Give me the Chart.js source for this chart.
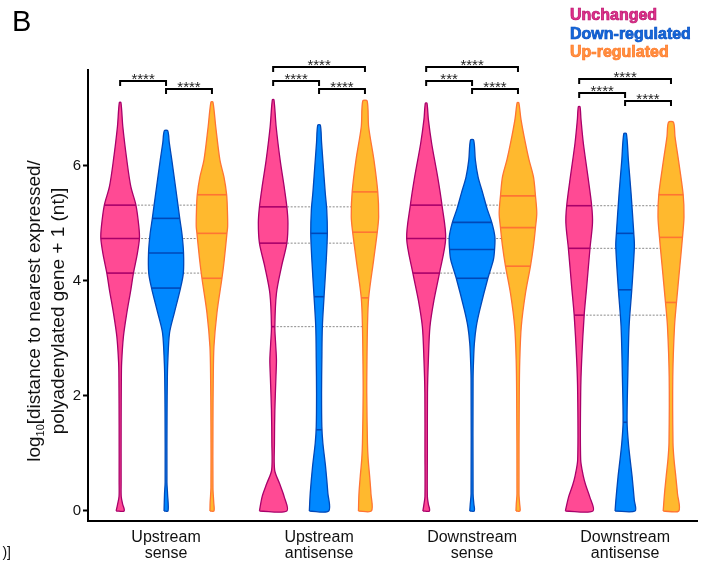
<!DOCTYPE html>
<html>
<head>
<meta charset="utf-8">
<script src="https://cdn.jsdelivr.net/npm/chart.js@4.4.1/dist/chart.umd.min.js"></script>
<style>
  html, body { margin: 0; padding: 0; background: #fff; }
  #wrap { width: 704px; height: 565px; position: relative; }
</style>
</head>
<body>
<div id="wrap"><canvas id="chart" width="704" height="565"></canvas></div>
<script>
// ---- data -------------------------------------------------------------
const groupLabels = [['Upstream', 'sense'], ['Upstream', 'antisense'], ['Downstream', 'sense'], ['Downstream', 'antisense']];
const seriesNames = ['Unchanged', 'Down-regulated', 'Up-regulated'];
const yTickValues = [0, 2, 4, 6];

// Kernel density outlines per group: [log10 distance, density] from bottom to top
const unchangedDensity = [
  [[0, 4], [0.12, 2.5], [0.25, 1.1], [0.5, 1.0], [1.5, 1.0], [2.27, 1.2], [2.57, 1.5], [3.03, 3.3], [3.44, 6.7], [3.84, 10.7], [4.13, 13.3], [4.45, 17], [4.73, 19.3], [4.94, 18.7], [5.31, 15.8], [5.63, 10.7], [6.09, 6.7], [6.67, 2.7], [7.09, 0.8]],
  [[0, 13.7], [0.25, 11], [0.48, 6.3], [0.71, 1.5], [1.18, 1.3], [1.75, 1.7], [2.33, 2.8], [2.62, 3.3], [2.9, 2.5], [3.2, 1.7], [3.78, 3.3], [4.24, 8.3], [4.65, 13.7], [5.0, 14.8], [5.28, 13.7], [5.63, 11], [6.09, 7], [6.67, 3], [7.14, 0.8]],
  [[0, 3.3], [0.12, 2.2], [0.25, 1.2], [1.0, 1.2], [2.05, 1.3], [2.62, 2.2], [3.2, 3.8], [3.66, 7.8], [4.13, 13.3], [4.73, 19.5], [5.31, 15.8], [5.8, 11.5], [6.38, 5.5], [6.8, 2.2], [7.08, 0.8]],
  [[0, 13.8], [0.25, 10.5], [0.45, 6.5], [0.6, 4.2], [0.89, 1.5], [2.04, 1.5], [2.62, 2.5], [3.4, 5], [3.89, 7.5], [4.56, 10.8], [5.0, 13.3], [5.3, 12.5], [5.8, 8.8], [6.38, 4.2], [6.8, 1.8], [7.02, 0.8]]
];
const downDensity = [
  [[0, 2], [0.3, 1.5], [0.5, 0.9], [1.7, 1.0], [2.3, 1.3], [2.57, 1.7], [3.09, 3.5], [3.44, 8.3], [3.87, 14.5], [4.13, 17.3], [4.48, 17.5], [4.8, 16], [5.08, 13.7], [5.52, 10.3], [6.09, 5.8], [6.4, 3.2], [6.6, 1.7]],
  [[0, 9.7], [0.31, 8.8], [0.77, 6.5], [1.18, 3.8], [1.46, 2.8], [2.05, 2.5], [2.62, 2.8], [3.2, 3.3], [3.72, 5], [4.36, 7.2], [4.82, 8.3], [5.23, 7.7], [5.52, 6.2], [6.09, 3.8], [6.4, 2.5], [6.7, 1.3]],
  [[0, 2.3], [0.12, 1.8], [0.3, 1.0], [2.3, 1.0], [2.62, 1.5], [2.91, 2.3], [3.2, 4.2], [3.49, 7.7], [4.04, 15.8], [4.36, 21.3], [4.54, 22.5], [4.76, 22.8], [5.01, 19.7], [5.25, 15], [5.51, 10.8], [5.8, 6], [6.09, 3.3], [6.44, 1.6]],
  [[0, 10], [0.19, 9.2], [0.6, 7], [0.9, 5], [1.18, 3.3], [1.54, 2], [2.33, 2.7], [3.2, 4], [3.84, 6.7], [4.59, 9.3], [4.82, 8.7], [5.51, 6], [6.09, 3.3], [6.55, 1.3]]
];
const upDensity = [
  [[0, 2], [0.15, 1.8], [0.4, 1.0], [1.5, 1.0], [2.27, 1.3], [2.85, 2], [3.44, 5], [4.04, 10], [4.36, 12.3], [4.82, 15], [4.94, 15.7], [5.2, 15.5], [5.49, 14.7], [5.8, 12], [6.09, 8], [6.67, 3.8], [7.1, 1.0]],
  [[0, 6.5], [0.3, 6], [0.6, 4.7], [0.9, 3.2], [1.18, 2.5], [2.05, 1.8], [2.6, 2], [3.2, 2.5], [3.7, 3.7], [4.36, 8.7], [4.84, 12.3], [5.11, 13.7], [5.54, 12.8], [6.09, 9], [6.67, 3.7], [7.12, 2.2]],
  [[0, 2], [0.12, 1.7], [0.3, 1.0], [2.0, 1.3], [2.62, 1.8], [3.2, 3.3], [3.78, 7.5], [4.25, 12.5], [4.6, 15.5], [4.92, 17.5], [5.17, 18.8], [5.47, 17.5], [5.8, 15.5], [6.1, 11], [6.38, 7.5], [6.8, 3.0], [7.09, 0.8]],
  [[0, 7.8], [0.3, 6.5], [0.6, 4.8], [0.9, 3], [1.18, 2], [2.33, 1.8], [3.2, 3.5], [3.62, 5.5], [4.24, 8.8], [4.75, 11.5], [5.11, 13], [5.49, 12.2], [6.09, 7.5], [6.5, 4], [6.75, 2.5]]
];

// Quartiles [Q1, median, Q3] per group
const unchangedQuartiles = [[4.13, 4.73, 5.31], [3.20, 4.65, 5.28], [4.13, 4.73, 5.31], [3.40, 4.56, 5.30]];
const downQuartiles      = [[3.87, 4.48, 5.08], [1.41, 3.72, 4.82], [4.04, 4.54, 5.01], [1.54, 3.84, 4.82]];
const upQuartiles        = [[4.04, 4.82, 5.49], [3.70, 4.84, 5.54], [4.25, 4.92, 5.47], [3.62, 4.75, 5.49]];

// Pairwise tests: [group, series a, series b, significance]
const comparisons = [
  [0, 0, 1, '****'], [0, 1, 2, '****'],
  [1, 0, 1, '****'], [1, 1, 2, '****'], [1, 0, 2, '****'],
  [2, 0, 1, '***'],  [2, 1, 2, '****'], [2, 0, 2, '****'],
  [3, 0, 1, '****'], [3, 1, 2, '****'], [3, 0, 2, '****']
];

// ---- styling ----------------------------------------------------------
const FONT = '"Liberation Sans", Arial, Helvetica, sans-serif';
const fills   = ['#ff4a94', '#0088ff', '#ffb92e'];
const borders = ['#a8006a', '#0048b8', '#ff7433'];
const legendFill   = ['#e0338b', '#1468dc', '#ff9440'];
const legendStroke = ['#b80f6c', '#0a4fbf', '#ff7428'];
const seriesOffset = [-0.3, 0, 0.3];   // position of each series inside a group (x units)
const WIDTH_PER_DENSITY = 1 / 153;    // x units per density unit
const bracketBase = [7.33, 7.33, 7.33, 7.12];  // lowest bracket per group
const bracketRaise = { '1-2': 0, '0-1': 7.8, '0-2': 22 }; // pixels above the base

const densities = [unchangedDensity, downDensity, upDensity];
const quartiles = [unchangedQuartiles, downQuartiles, upQuartiles];

function widthAt(profile, v) {
  for (let i = 1; i < profile.length; i++) {
    const [v0, d0] = profile[i - 1], [v1, d1] = profile[i];
    if (v >= v0 && v <= v1) return d0 + (d1 - d0) * (v - v0) / (v1 - v0);
  }
  return 0;
}

function outline(center, profile) {
  const left = profile.map(([v, d]) => ({ x: center - d * WIDTH_PER_DENSITY, y: v }));
  const right = profile.slice().reverse().map(([v, d]) => ({ x: center + d * WIDTH_PER_DENSITY, y: v }));
  return left.concat(right, [left[0]]);
}

const quartileSets = [], violinSets = [], guideSets = [];
groupLabels.forEach((_, g) => {
  for (let s = 0; s < 3; s++) {
    const c = g + seriesOffset[s];
    const prof = densities[s][g];
    violinSets.push({
      data: outline(c, prof),
      borderColor: borders[s], backgroundColor: fills[s], borderWidth: 1.3,
      fill: 'shape', tension: 0.3, pointRadius: 0
    });
    quartiles[s][g].forEach(q => {
      const w = widthAt(prof, q) * WIDTH_PER_DENSITY;
      quartileSets.push({
        data: [{ x: c - w, y: q }, { x: c + w, y: q }],
        borderColor: borders[s], borderWidth: 1.6, fill: false, tension: 0, pointRadius: 0
      });
    });
  }
  // dotted reference lines at the Unchanged quartiles across the group
  unchangedQuartiles[g].forEach(q => {
    guideSets.push({
      data: [{ x: g + seriesOffset[0], y: q }, { x: g + seriesOffset[2], y: q }],
      borderColor: '#8a8a8a', borderWidth: 1, borderDash: [2, 1.5], fill: false, tension: 0, pointRadius: 0
    });
  });
});

// ---- annotations ------------------------------------------------------
function drawYTitle(ctx) {
  const lines = [
    { base: 40, parts: [['log', 19, 0], ['10', 11, 3.5], ['[distance to nearest expressed/', 19, 0]] },
    { base: 63.5, parts: [['polyadenylated gene + 1 (nt)]', 19, 0]] }
  ];
  const cy = 311;
  lines.forEach(line => {
    ctx.save();
    ctx.translate(line.base, cy);
    ctx.rotate(-Math.PI / 2);
    ctx.fillStyle = '#111';
    ctx.textBaseline = 'alphabetic';
    ctx.textAlign = 'left';
    let total = 0;
    line.parts.forEach(([t, size]) => { ctx.font = size + 'px ' + FONT; total += ctx.measureText(t).width; });
    let x = -total / 2;
    line.parts.forEach(([t, size, shift]) => {
      ctx.font = size + 'px ' + FONT;
      ctx.fillText(t, x, shift);
      x += ctx.measureText(t).width;
    });
    ctx.restore();
  });
}

const annotate = {
  id: 'annotate',
  afterDraw(chart) {
    const ctx = chart.ctx, xs = chart.scales.x, ys = chart.scales.y;
    ctx.save();
    // significance brackets
    ctx.strokeStyle = '#000';
    ctx.lineWidth = 2;
    ctx.fillStyle = '#222';
    ctx.font = '15px ' + FONT;
    ctx.textAlign = 'center';
    ctx.textBaseline = 'alphabetic';
    comparisons.forEach(([g, a, b, label]) => {
      const x1 = xs.getPixelForValue(g + seriesOffset[a]);
      const x2 = xs.getPixelForValue(g + seriesOffset[b]);
      const y = Math.round(ys.getPixelForValue(bracketBase[g]) - bracketRaise[a + '-' + b]);
      ctx.beginPath();
      ctx.moveTo(x1, y + 5);
      ctx.lineTo(x1, y);
      ctx.lineTo(x2, y);
      ctx.lineTo(x2, y + 5);
      ctx.stroke();
      ctx.fillText(label, (x1 + x2) / 2, y + 3);
    });

    // legend
    ctx.textAlign = 'left';
    ctx.font = 'bold 16px ' + FONT;
    ctx.lineWidth = 0.7;
    seriesNames.forEach((name, i) => {
      const y = 20 + i * 18.5;
      ctx.fillStyle = legendFill[i];
      ctx.fillText(name, 570, y);
      ctx.strokeStyle = legendStroke[i];
      ctx.strokeText(name, 570, y);
    });

    // panel letter
    ctx.fillStyle = '#000';
    ctx.font = '29px ' + FONT;
    ctx.fillText('B', 12, 31);

    // trailing bracket of the neighbouring panel's label
    ctx.font = '14px ' + FONT;
    ctx.textAlign = 'right';
    ctx.fillStyle = '#111';
    ctx.fillText(')]', 11, 557);

    ctx.restore();
    drawYTitle(ctx);
  }
};

// ---- chart ------------------------------------------------------------
Chart.defaults.font.family = FONT;
new Chart(document.getElementById('chart'), {
  type: 'line',
  data: { datasets: [...quartileSets, ...violinSets, ...guideSets] },
  options: {
    responsive: false,
    animation: false,
    events: [],
    layout: { padding: { top: 70, right: 7, left: 0, bottom: 0 } },
    plugins: { legend: { display: false }, tooltip: { enabled: false } },
    elements: { line: { capBezierPoints: false } },
    scales: {
      x: {
        type: 'linear',
        min: -0.51, max: 3.47,
        afterBuildTicks: s => { s.ticks = groupLabels.map((_, i) => ({ value: i })); },
        afterFit: s => { s.height = 44; },
        grid: { display: true, drawOnChartArea: false, drawTicks: false },
        border: { display: true, color: '#000', width: 2 },
        ticks: {
          color: '#111', padding: 9, maxRotation: 0, autoSkip: false,
          font: { size: 16, lineHeight: 1.0 },
          callback: v => groupLabels[v]
        }
      },
      y: {
        type: 'linear',
        min: -0.174, max: 7.656,
        afterBuildTicks: s => { s.ticks = yTickValues.map(v => ({ value: v })); },
        afterFit: s => { s.width = 88; },
        grid: { display: true, drawOnChartArea: false, drawTicks: true, tickLength: 5, tickWidth: 2, tickColor: '#000' },
        border: { display: true, color: '#000', width: 2 },
        ticks: { color: '#111', padding: 2, font: { size: 15 } }
      }
    }
  },
  plugins: [annotate]
});
</script>
</body>
</html>
